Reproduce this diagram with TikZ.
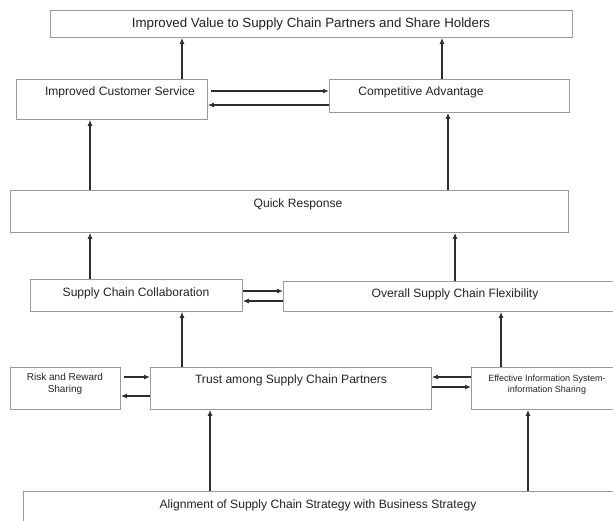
\documentclass[tikz,border=0pt]{standalone}
\usepackage{fontspec}
\setmainfont{Liberation Sans}
\usetikzlibrary{arrows.meta}
\definecolor{boxgray}{HTML}{9A9A9A}
\definecolor{arrgray}{HTML}{2E2E2E}
\definecolor{txtgray}{HTML}{222222}
\tikzset{
  box/.style={draw=boxgray, line width=0.8pt, rectangle, inner sep=0pt, anchor=north west},
  txt/.style={text=txtgray, inner sep=0pt, anchor=base, font=\fontsize{12.1}{14}\selectfont},
  bigtxt/.style={txt, font=\fontsize{13.3}{15}\selectfont},
  smalltxt/.style={text=txtgray, inner sep=0pt, anchor=center, align=center},
  arr/.style={draw=arrgray, line width=1.2pt, -{Latex[length=6pt,width=5pt]}}
}
\newcommand\mkbox[5]{\node[box, minimum width={(#4-#2)*1pt}, minimum height={(#5-#3)*1pt}] (#1) at (#2,#3) {};}
\begin{document}
\begin{tikzpicture}[x=1pt,y=-1pt]
\useasboundingbox (0,0) rectangle (613,520);
% boxes
\mkbox{top}{50}{10}{572}{37}
\mkbox{ics}{16}{79}{207}{119}
\mkbox{ca}{329}{79}{569}{112}
\mkbox{qr}{10}{190}{568}{232}
\mkbox{scc}{30}{279}{242}{311}
\mkbox{oscf}{283}{281}{625}{311}
\mkbox{risk}{10}{367}{120}{409}
\mkbox{trust}{150}{367}{431}{409}
\mkbox{eis}{471}{367}{625}{409}
\mkbox{align}{23}{491}{625}{535}
% texts
\node[bigtxt] (ttop) at (311,27.8) {Improved Value to Supply Chain Partners and Share Holders};
\node[txt] (tics) at (120,95.3) {Improved Customer Service};
\node[txt] (tca) at (421,95.3) {Competitive Advantage};
\node[txt] (tqr) at (298,207.3) {Quick Response};
\node[txt] (tscc) at (136,296.3) {Supply Chain Collaboration};
\node[txt] (toscf) at (455,297.3) {Overall Supply Chain Flexibility};
\node[txt] (ttrust) at (291,383.3) {Trust among Supply Chain Partners};
\node[txt] (talign) at (318,508.3) {Alignment of Supply Chain Strategy with Business Strategy};
\node[smalltxt, font=\fontsize{10}{12}\selectfont] (trisk) at (65,384) {Risk and Reward\\Sharing};
\node[smalltxt, font=\fontsize{9}{11}\selectfont] (teis) at (547,384.4) {Effective Information System-\\information Sharing};
% vertical arrows
\draw[arr] (182,0 |- ics.north) -- (182,0 |- top.south);
\draw[arr] (442,0 |- ca.north) -- (442,0 |- top.south);
\draw[arr] (90,0 |- qr.north) -- (90,0 |- ics.south);
\draw[arr] (448,0 |- qr.north) -- (448,0 |- ca.south);
\draw[arr] (90,0 |- scc.north) -- (90,0 |- qr.south);
\draw[arr] (455,0 |- oscf.north) -- (455,0 |- qr.south);
\draw[arr] (182,0 |- trust.north) -- (182,0 |- scc.south);
\draw[arr] (501,0 |- eis.north) -- (501,0 |- oscf.south);
\draw[arr] (210,0 |- align.north) -- (210,0 |- trust.south);
\draw[arr] (528,0 |- align.north) -- (528,0 |- eis.south);
% horizontal arrows
\draw[arr] ([xshift=3pt]ics.east |- 0,91) -- (ca.west |- 0,91);
\draw[arr] (ca.west |- 0,105) -- (ics.east |- 0,105);
\draw[arr] (scc.east |- 0,291) -- (oscf.west |- 0,291);
\draw[arr] (oscf.west |- 0,301) -- (scc.east |- 0,301);
\draw[arr] ([xshift=3pt]risk.east |- 0,377) -- (trust.west |- 0,377);
\draw[arr] (trust.west |- 0,396) -- (risk.east |- 0,396);
\draw[arr] (eis.west |- 0,377) -- (trust.east |- 0,377);
\draw[arr] (trust.east |- 0,387) -- (eis.west |- 0,387);
\end{tikzpicture}
\end{document}
